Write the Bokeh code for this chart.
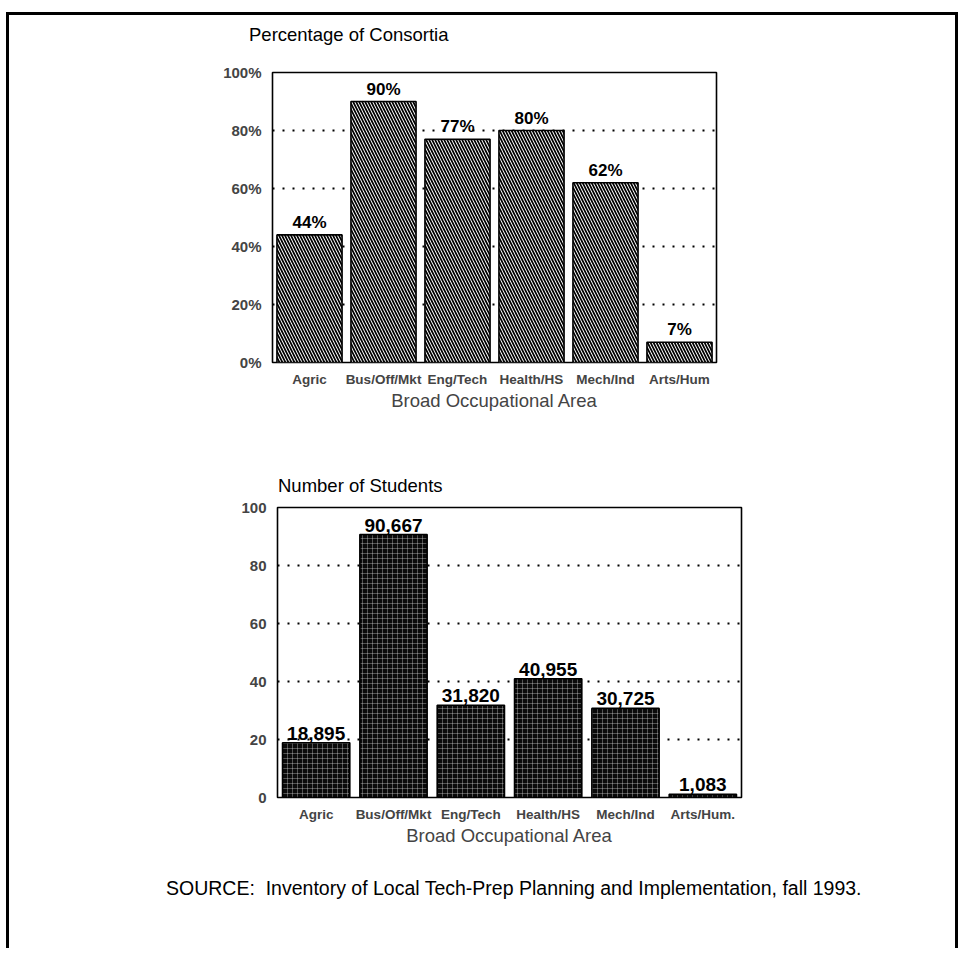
from bokeh.plotting import figure
from bokeh.models import ColumnDataSource, FactorRange, Range1d, FixedTicker, LabelSet, Div
from bokeh.core.properties import value
from bokeh.layouts import column, row
from bokeh.embed import file_html
from bokeh.resources import INLINE

# ---------------- data ----------------
categories_top = ["Agric", "Bus/Off/Mkt", "Eng/Tech", "Health/HS", "Mech/Ind", "Arts/Hum"]
pct_consortia = [44, 90, 77, 80, 62, 7]
pct_labels = ["44%", "90%", "77%", "80%", "62%", "7%"]
pct_ticks = [0, 20, 40, 60, 80, 100]
pct_tick_labels = ["0%", "20%", "40%", "60%", "80%", "100%"]

categories_bottom = ["Agric", "Bus/Off/Mkt", "Eng/Tech", "Health/HS", "Mech/Ind", "Arts/Hum."]
students_thousands = [18.895, 90.667, 31.820, 40.955, 30.725, 1.083]
student_labels = ["18,895", "90,667", "31,820", "40,955", "30,725", "1,083"]
student_ticks = [0, 20, 40, 60, 80, 100]
student_tick_labels = ["0", "20", "40", "60", "80", "100"]

FONT = "Liberation Sans"


def make_chart(cats, vals, labels, ticks, tick_labels, fw, fh,
               bl, br, bt, bb, bar_width, value_font_size, style):
    p = figure(x_range=FactorRange(*cats, range_padding=0), y_range=Range1d(0, 100),
               frame_width=fw, frame_height=fh, output_backend="svg", toolbar_location=None,
               min_border_left=bl, min_border_right=br, min_border_top=bt, min_border_bottom=bb,
               margin=0)

    src = ColumnDataSource(dict(x=cats, y=vals, lab=labels))
    p.vbar(x="x", top="y", width=bar_width, source=src, line_color="black",
           line_width=1.6, **style)

    ls = LabelSet(x="x", y="y", text="lab", source=src, text_align="center",
                  text_baseline="bottom", y_offset=3, text_font=value(FONT),
                  text_font_size=value_font_size, text_font_style="bold", text_color="black")
    p.add_layout(ls)

    p.outline_line_color = "black"
    p.outline_line_width = 1.6
    p.background_fill_color = "white"
    p.border_fill_color = "white"

    p.xgrid.grid_line_color = None
    p.ygrid.ticker = FixedTicker(ticks=ticks[1:-1])
    p.ygrid.grid_line_color = "black"
    p.ygrid.grid_line_dash = "2 8"
    p.ygrid.grid_line_width = 1.8

    p.yaxis.ticker = FixedTicker(ticks=ticks)
    p.yaxis.major_label_overrides = {t: s for t, s in zip(ticks, tick_labels)}
    p.yaxis.major_tick_line_color = None
    p.yaxis.minor_tick_line_color = None
    p.yaxis.axis_line_color = None
    p.yaxis.major_label_standoff = 5
    p.yaxis.major_label_text_font = FONT
    p.yaxis.major_label_text_font_size = "15px"
    p.yaxis.major_label_text_font_style = "bold"

    p.xaxis.major_tick_line_color = None
    p.xaxis.minor_tick_line_color = None
    p.xaxis.axis_line_color = None
    p.xaxis.major_label_standoff = 3
    p.xaxis.major_label_text_font = FONT
    p.xaxis.major_label_text_font_size = "13.5px"
    p.xaxis.major_label_text_font_style = "bold"
    p.xaxis.axis_label = "Broad Occupational Area"
    p.xaxis.axis_label_text_font = FONT
    p.xaxis.axis_label_text_font_size = "18.5px"
    p.xaxis.axis_label_text_font_style = "normal"
    p.xaxis.axis_label_standoff = 0
    return p


def title_div(text, left, top, height):
    return Div(text=(f'<div style="margin-left:{left}px; margin-top:{top}px; '
                     f'font-family:\'Liberation Sans\'; font-size:18.5px; line-height:20px; '
                     f'white-space:nowrap; color:black">{text}</div>'),
               width=946, height=height, margin=0)


top_style = dict(fill_color="white", hatch_pattern="\\", hatch_color="black",
                 hatch_scale=6, hatch_weight=1.7)
bottom_style = dict(fill_color="#0a0a0a", hatch_pattern="+", hatch_color="white",
                    hatch_scale=5, hatch_weight=0.5, hatch_alpha=0.6)

# page content starts at x=9, y=15 (inside the border)
t1 = title_div("Percentage of Consortia", 240, 10, 45)
p1 = make_chart(categories_top, pct_consortia, pct_labels, pct_ticks, pct_tick_labels,
                444, 290, 263, 239, 12, 78, 0.88, "17px", top_style)
t2 = title_div("Number of Students", 269, 36, 55)
p2 = make_chart(categories_bottom, students_thousands, student_labels, student_ticks,
                student_tick_labels, 464, 290, 268, 214, 12, 67, 0.87, "19px", bottom_style)

src_text = Div(
    text=('<div style="margin-left:157px; margin-top:13px; font-family:\'Liberation Sans\';'
          ' font-size:19.5px; line-height:22px; white-space:nowrap; color:black">'
          'SOURCE:&nbsp; Inventory of Local Tech-Prep Planning and Implementation, fall 1993.</div>'),
    width=946, height=84, margin=0)

layout = column(t1, row(p1, margin=0), t2, row(p2, margin=0), src_text,
                margin=(12, 0, 0, 6), spacing=0,
                styles={"border-top": "3px solid black", "border-left": "3px solid black",
                        "border-right": "3px solid black", "background-color": "white"})

open("out.html", "w").write(file_html(layout, INLINE))
